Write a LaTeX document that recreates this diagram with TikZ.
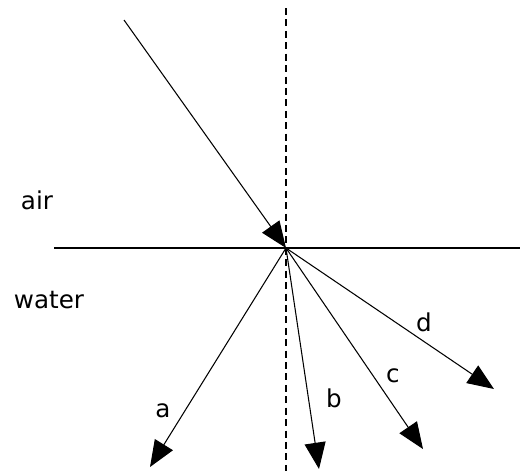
\documentclass[tikz,border=0pt]{standalone}
\usepackage{fontspec}
\setmainfont{DejaVu Sans}
\usetikzlibrary{arrows.meta}

\begin{document}
\begin{tikzpicture}[x=0.02cm, y=-0.02cm, >={Triangle[length=15pt,width=12pt]},
    ray/.style={->, line width=0.6pt},
    lbl/.style={font=\fontsize{14}{17}\selectfont, inner sep=0pt}]
    \useasboundingbox (0,0) rectangle (520,471);
    \coordinate (O) at (286,248);
    \coordinate (src) at (124,20);
    \coordinate (ntop) at (286,8);
    \coordinate (nbot) at (286,471);
    \coordinate (sl) at (54,248);
    \coordinate (sr) at (520,248);
    \coordinate (ta) at (150,467);
    \coordinate (tb) at (319,469);
    \coordinate (tc) at (423,449);
    \coordinate (td) at (494,389);
    \draw[dashed, dash pattern=on 4pt off 2.5pt, line width=0.6pt] (ntop) -- (nbot);
    \draw[line width=0.6pt] (sl) -- (sr);
    \draw[ray] (src) -- (O);
    \draw[ray] (O) -- (ta);
    \draw[ray] (O) -- (tb);
    \draw[ray] (O) -- (tc);
    \draw[ray] (O) -- (td);
    \node[lbl] (air) at (37,200) {air};
    \node[lbl] (water) at (49,300) {water};
    \node[lbl] (la) at (163,411) {a};
    \node[lbl] (lb) at (334,398) {b};
    \node[lbl] (lc) at (393,376) {c};
    \node[lbl] (ld) at (424,322) {d};
\end{tikzpicture}
\end{document}
